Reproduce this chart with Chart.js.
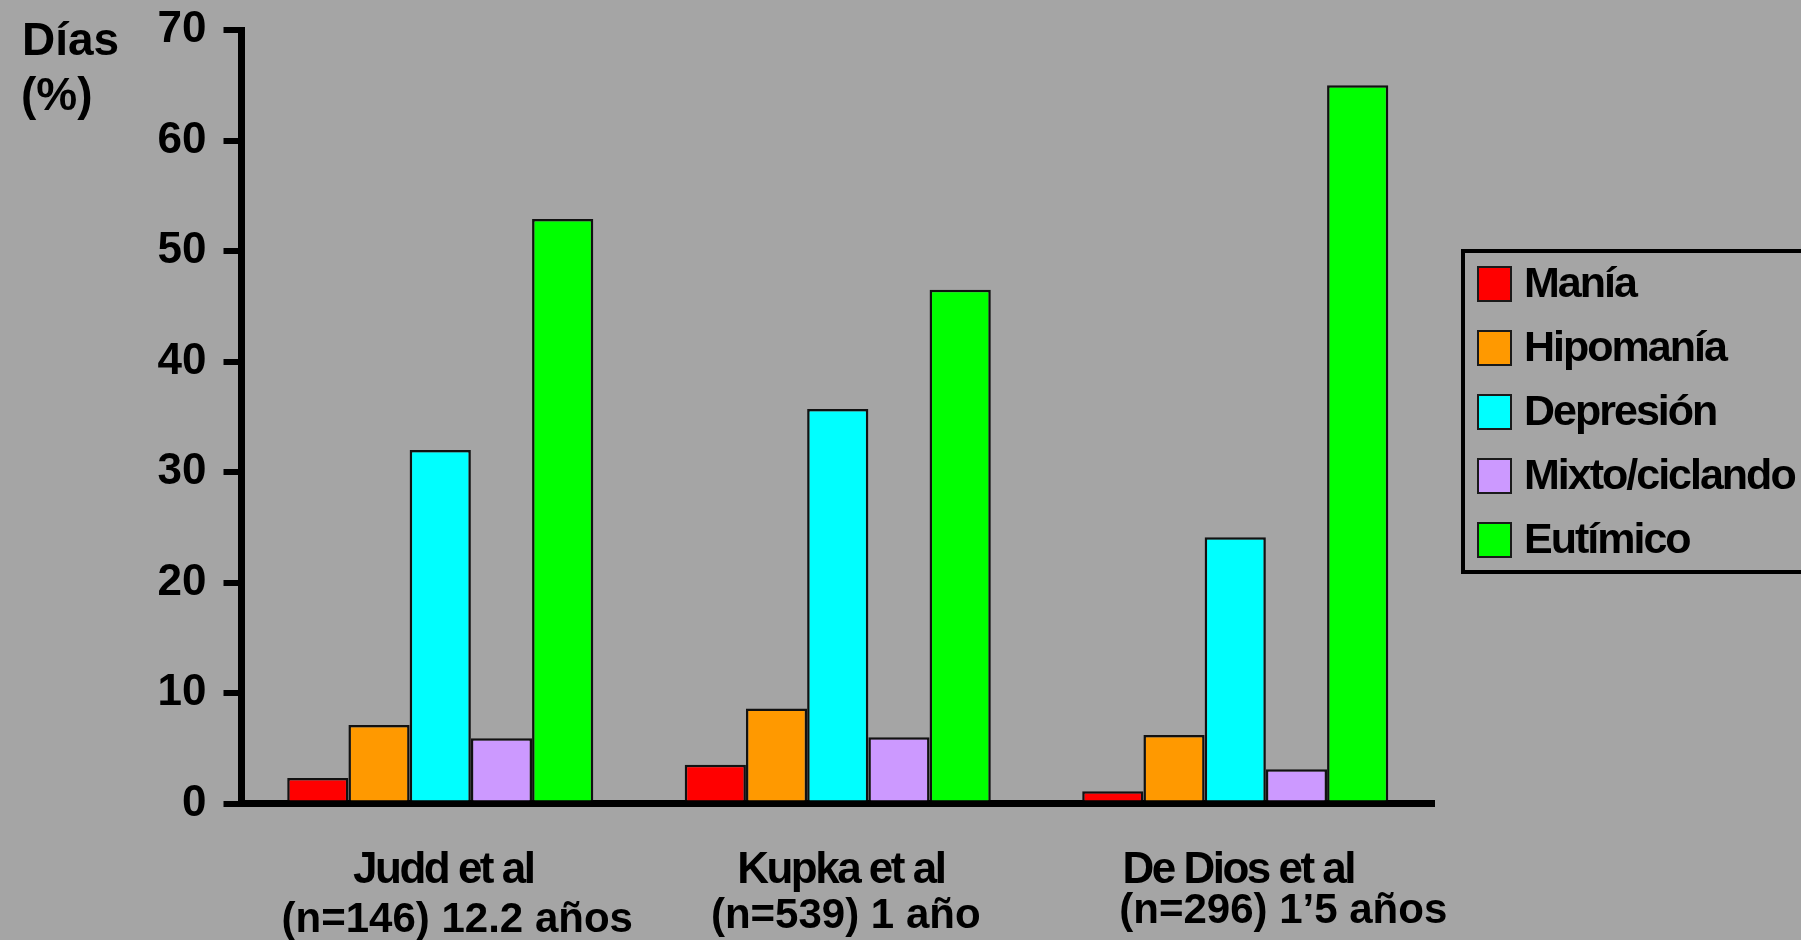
<!DOCTYPE html>
<html lang="es">
<head>
<meta charset="utf-8">
<title>Días (%) por estado de ánimo</title>
<script src="https://cdn.jsdelivr.net/npm/chart.js@4.4.1/dist/chart.umd.min.js"></script>
<style>
  html, body { margin: 0; padding: 0; background: #a5a5a5; overflow: hidden; }
  canvas { display: block; }
</style>
</head>
<body>
<canvas id="chart" width="1801" height="940"></canvas>
<script>
// Studies (category axis) and their sample/follow-up details
const studies = ['Judd et al', 'Kupka et al', 'De Dios et al'];
const studyDetails = ['(n=146) 12.2 años', '(n=539) 1 año', '(n=296) 1’5 años'];

// Percentage of days spent in each mood state
const mania      = [2.3, 3.5, 1.1];
const hipomania  = [7.1, 8.6, 6.2];
const depresion  = [32.0, 35.7, 24.1];
const mixto      = [5.9, 6.0, 3.1];
const eutimico   = [52.9, 46.5, 65.0];

const seriesNames = ['Manía', 'Hipomanía', 'Depresión', 'Mixto/ciclando', 'Eutímico'];
const seriesColors = ['#ff0000', '#ff9900', '#00ffff', '#cc99ff', '#00ff00'];

// Y axis range and tick step
const yMin = 0, yMax = 70, yStep = 10;
const yTitleLines = ['Días', '(%)'];

const FONT = "'Liberation Sans', Arial, Helvetica, sans-serif";

// Small horizontal / vertical placement of the detail line under each study name
const detailShiftX = [17, 8, 48];
const detailBaseline = [932, 928, 923];

const backgroundPlugin = {
  id: 'pageBackground',
  beforeDraw(chart) {
    const ctx = chart.ctx;
    ctx.save();
    ctx.fillStyle = '#a5a5a5';
    ctx.fillRect(0, 0, chart.width, chart.height);
    ctx.restore();
  }
};

const annotationPlugin = {
  id: 'annotations',
  afterDraw(chart) {
    const ctx = chart.ctx;
    const xScale = chart.scales.x;
    ctx.save();
    ctx.fillStyle = '#000';

    // Y axis title, two lines at the top-left corner
    ctx.font = `bold 46px ${FONT}`;
    ctx.textAlign = 'left';
    ctx.textBaseline = 'alphabetic';
    ctx.fillText(yTitleLines[0], 22, 55);
    ctx.fillText(yTitleLines[1], 21, 110);

    // Category labels: study name (tight) and details below
    studies.forEach((name, i) => {
      const cx = xScale.getPixelForValue(i);
      ctx.textAlign = 'center';
      ctx.font = `bold 44px ${FONT}`;
      ctx.letterSpacing = '-2.5px';
      ctx.fillText(name, cx + 3, 883);
      ctx.letterSpacing = '0px';
      ctx.font = `bold 42px ${FONT}`;
      ctx.fillText(studyDetails[i], cx + detailShiftX[i], detailBaseline[i]);
    });

    // Legend box on the right
    ctx.lineWidth = 4;
    ctx.strokeStyle = '#000';
    ctx.strokeRect(1463, 251, 420, 321);
    const rowTop = 267, rowPitch = 64, sw = 33;
    chart.data.datasets.forEach((ds, i) => {
      const y = rowTop + i * rowPitch;
      ctx.fillStyle = ds.backgroundColor;
      ctx.fillRect(1478, y, sw, sw + 1);
      ctx.lineWidth = 2;
      ctx.strokeStyle = '#1a1a1a';
      ctx.strokeRect(1478, y, sw, sw + 1);
      ctx.fillStyle = '#000';
      ctx.font = `bold 43px ${FONT}`;
      ctx.letterSpacing = '-2px';
      ctx.textAlign = 'left';
      ctx.textBaseline = 'middle';
      ctx.fillText(ds.label, 1524, y + sw / 2 + 2);
      ctx.letterSpacing = '0px';
      ctx.textBaseline = 'alphabetic';
    });
    ctx.restore();
  }
};

const seriesValues = [mania, hipomania, depresion, mixto, eutimico];

new Chart(document.getElementById('chart'), {
  type: 'bar',
  data: {
    labels: studies,
    datasets: seriesNames.map((name, i) => ({
      label: name,
      data: seriesValues[i],
      backgroundColor: seriesColors[i],
      borderColor: '#111111',
      borderWidth: 2.5,
      categoryPercentage: 0.77,
      barPercentage: 1.0
    }))
  },
  options: {
    responsive: false,
    animation: false,
    devicePixelRatio: 1,
    layout: { padding: { top: 30, right: 367, bottom: 0, left: 0 } },
    plugins: {
      legend: { display: false },
      tooltip: { enabled: false },
      title: { display: false }
    },
    scales: {
      x: {
        z: 1,
        grid: { display: false, lineWidth: 1 },
        border: { display: true, color: '#000', width: 7 },
        ticks: { display: false },
        afterFit(scale) {
          scale.height = 136.5;
          scale.paddingLeft = 0;
          scale.paddingRight = 0;
        }
      },
      y: {
        z: 1,
        min: yMin,
        max: yMax,
        grid: {
          display: true,
          drawOnChartArea: false,
          drawTicks: true,
          tickLength: 18,
          tickWidth: 6,
          lineWidth: 6,
          color: '#000',
          tickColor: '#000'
        },
        border: { display: true, color: '#000', width: 7 },
        ticks: {
          stepSize: yStep,
          padding: 17,
          color: '#000',
          font: { family: FONT, size: 44, weight: 'bold' }
        },
        afterFit(scale) {
          scale.width = 241.5;
          scale.paddingTop = 0;
          scale.paddingBottom = 0;
        }
      }
    }
  },
  plugins: [backgroundPlugin, annotationPlugin]
});
</script>
</body>
</html>
